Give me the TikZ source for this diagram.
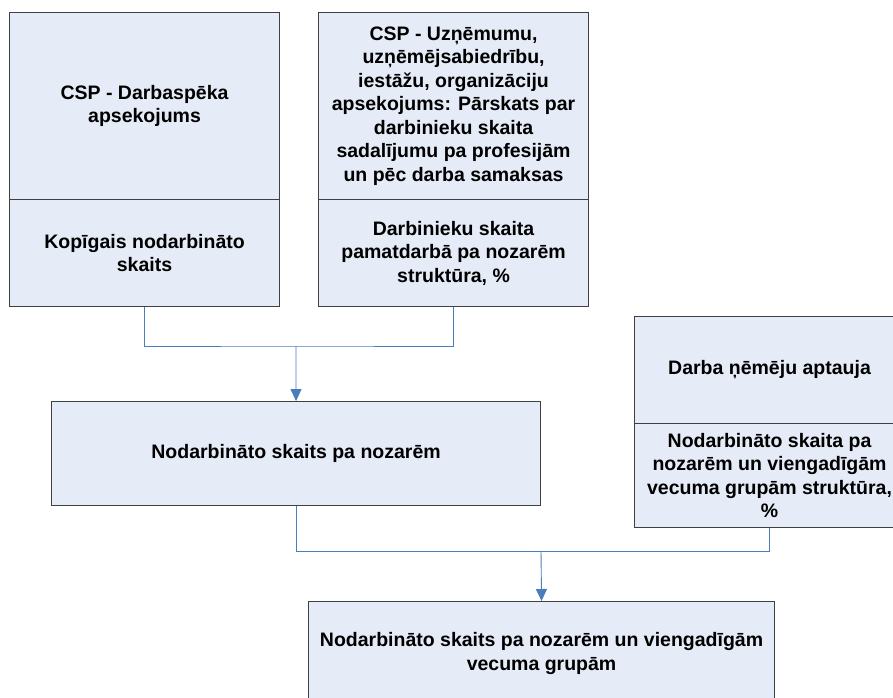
\documentclass[tikz,border=0pt]{standalone}
\usepackage{fontspec}
\setmainfont{Liberation Sans}
\usetikzlibrary{arrows.meta}
\definecolor{boxfill}{RGB}{230,236,247}
\definecolor{boxline}{RGB}{64,64,64}
\definecolor{linkblue}{RGB}{74,126,187}
\begin{document}
\begin{tikzpicture}[x=1pt,y=-1pt,
  box/.style={draw=boxline,fill=boxfill,line width=1.1pt,anchor=north west,
    inner sep=0pt,align=center,
    font=\fontsize{19.5pt}{23.5pt}\selectfont\bfseries},
  link/.style={draw=linkblue,line width=0.9pt},
  linkarrow/.style={link,-{Triangle[width=11pt,length=12pt]}}]
\useasboundingbox (0,0) rectangle (893,697);
\clip (0,0) rectangle (893,697);

% source boxes
\node[box,minimum width=270pt,minimum height=187pt] (atop) at (9,12)
  {CSP - Darbaspēka\\apsekojums};
\node[box,minimum width=270pt,minimum height=107pt] (abot) at (9,199)
  {Kopīgais nodarbināto\\skaits};

\node[box,minimum width=270pt,minimum height=187pt] (btop) at (318,12)
  {CSP - Uzņēmumu,\\uzņēmējsabiedrību,\\iestāžu, organizāciju\\apsekojums: Pārskats par\\darbinieku skaita\\sadalījumu pa profesijām\\un pēc darba samaksas};
\node[box,minimum width=270pt,minimum height=107pt] (bbot) at (318,199)
  {Darbinieku skaita\\pamatdarbā pa nozarēm\\struktūra, \%};

\node[box,minimum width=489pt,minimum height=104pt] (c) at (51,401)
  {Nodarbināto skaits pa nozarēm};

\node[box,minimum width=270pt,minimum height=107pt] (dtop) at (634,316)
  {Darba ņēmēju aptauja};
\node[box,minimum width=270pt,minimum height=104pt] (dbot) at (634,423)
  {Nodarbināto skaita pa\\nozarēm un viengadīgām\\vecuma grupām struktūra,\\\%};

\node[box,minimum width=466pt,minimum height=104pt] (e) at (308,601)
  {Nodarbināto skaits pa nozarēm un viengadīgām\\vecuma grupām};

% connectors
\coordinate (j1) at (296,346);
\coordinate (j2) at (541,551);
\draw[link] (abot.south) |- (j1) -| (bbot.south);
\draw[linkarrow] (j1) -- (c.north);
\draw[link] (c.south) |- (j2) -| (dbot.south);
\draw[linkarrow] (j2) -- (e.north);
\end{tikzpicture}
\end{document}
